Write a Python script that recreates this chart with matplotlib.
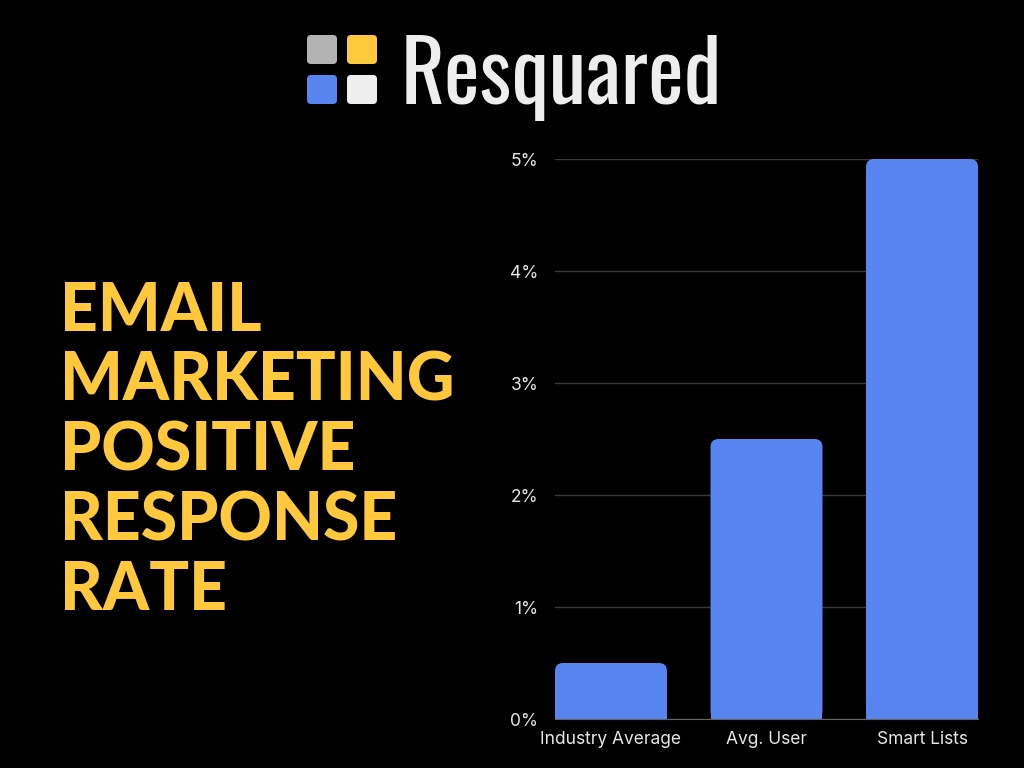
import numpy as np
import matplotlib.pyplot as plt
from matplotlib.patches import FancyBboxPatch

categories = ["Industry Average", "Avg. User", "Smart Lists"]
rates = [0.5, 2.5, 5.0]
y_ticks = [0, 1, 2, 3, 4, 5]
y_labels = ["0%", "1%", "2%", "3%", "4%", "5%"]
title_lines = ["EMAIL", "MARKETING", "POSITIVE", "RESPONSE", "RATE"]
brand = "Resquared"
logo_colors = ["#b3b3b3", "#ffc83d", "#5884ef", "#eeeeee"]

BG = "#000000"
BAR = "#5884ef"
YELLOW = "#ffc83d"

fig = plt.figure(figsize=(10.24, 7.68), dpi=100, facecolor=BG)

# full-figure layer in pixel coords for logo + title
bg = fig.add_axes([0, 0, 1, 1], zorder=0)
bg.set_xlim(0, 1024)
bg.set_ylim(768, 0)
bg.axis("off")

# logo squares
sq = [(307, 35), (347, 35), (307, 75), (347, 75)]
for (x0, y0), c in zip(sq, logo_colors):
    bg.add_patch(FancyBboxPatch((x0, y0), 30, 29, boxstyle="round,pad=0,rounding_size=4",
                                fc=c, ec="none"))
bg.text(401, 104, brand, color="#eeeeee", fontsize=61,
        family=["Oswald", "DejaVu Sans"], ha="left", va="baseline")

bg.text(60, 281, "\n".join(title_lines), color=YELLOW, fontsize=47.5, fontweight=900,
        family=["Lato", "DejaVu Sans"], ha="left", va="top", linespacing=1.155)

# bar chart
ax = fig.add_axes([555 / 1024, 49 / 768, 423 / 1024, 560 / 768], zorder=1)
ax.set_facecolor("none")
x = np.arange(len(categories))
w = 0.72
bars = ax.bar(x, rates, width=w, color=BAR)
rx = 8 / 155.5
ry = 8 / 112
for b in bars:
    x0, h, bw = b.get_x(), b.get_height(), b.get_width()
    b.set_height(h - ry)
    ax.add_patch(FancyBboxPatch((x0, 0), bw, h,
                                boxstyle="round,pad=0,rounding_size=%f" % rx,
                                mutation_aspect=ry / rx, fc=BAR, ec="none"))

ax.set_xlim(-0.36, 2.36)
ax.set_ylim(0, 5)
ax.set_yticks(y_ticks)
ax.set_yticklabels(y_labels)
ax.set_xticks(x)
ax.set_xticklabels(categories)
ax.grid(axis="y", color="#3a3a3a", linewidth=1)
ax.set_axisbelow(True)
for s in ["top", "right", "left"]:
    ax.spines[s].set_visible(False)
ax.spines["bottom"].set_color("#666666")
ax.tick_params(length=0, colors="#e6e6e6", labelsize=12.5)
ax.tick_params(axis="y", pad=12)
ax.tick_params(axis="x", pad=9)
for t in ax.get_xticklabels() + ax.get_yticklabels():
    t.set_family(["Inter", "DejaVu Sans"])

fig.savefig("out.png", dpi=100, facecolor=BG)
